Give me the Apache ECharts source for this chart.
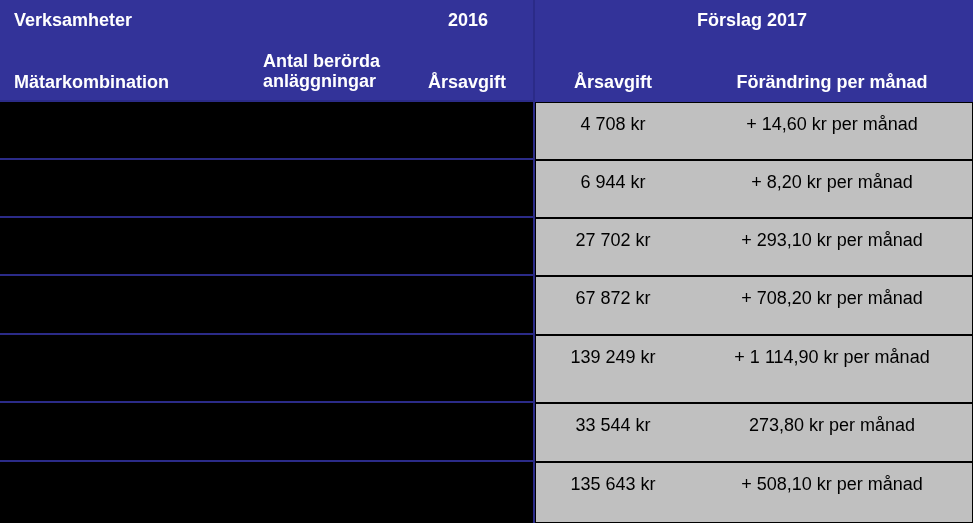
<!DOCTYPE html><html><head><meta charset="utf-8">
<script src="https://cdn.jsdelivr.net/npm/echarts@6/dist/echarts.min.js"></script>
<style>html,body{margin:0;padding:0;background:#000}#c{width:973px;height:523px}</style></head><body><div id="c"></div>
<script>
// data
var headerTop = ["Verksamheter", "2016", "Förslag 2017"];
var headerSub = ["Mätarkombination", "Antal berörda\nanläggningar", "Årsavgift", "Årsavgift", "Förändring per månad"];
var fee2017 = ["4 708 kr", "6 944 kr", "27 702 kr", "67 872 kr", "139 249 kr", "33 544 kr", "135 643 kr"];
var changePerMonth = ["+ 14,60 kr per månad", "+ 8,20 kr per månad", "+ 293,10 kr per månad", "+ 708,20 kr per månad", "+ 1 114,90 kr per månad", "273,80 kr per månad", "+ 508,10 kr per månad"];

// layout (separate from data)
var rowEdges = [0, 42, 102, 160, 218, 276, 335, 403, 462, 523];
var cols = {left:0, sub2:255, sub3:420, mid:534, c4:535, c5:692, right:973};

var cells = [];
// header row 1
cells.push([cols.left, cols.mid, rowEdges[0], rowEdges[1], '', '#333399', '', 'left', 0]);
cells.push([cols.c4, cols.right, rowEdges[0], rowEdges[1], '', '#333399', '', 'left', 0]);
cells.push([cols.left, cols.mid, rowEdges[1], rowEdges[2], '', '#333399', '', 'left', 0]);
cells.push([cols.c4, cols.right, rowEdges[1], rowEdges[2], '', '#333399', '', 'left', 0]);
for (var i = 0; i < fee2017.length; i++) {
  var y0 = rowEdges[i + 2], y1 = rowEdges[i + 3];
  cells.push([cols.left, cols.mid, y0, y1 - 2, '', '#000', '', 'left', 0]);
  cells.push([cols.c4 + 1, cols.right - 1, y0 + 1, y1 - 1, '', '#c0c0c0', '', 'left', 0]);
}
var texts = [
  [14, 21, headerTop[0], 'left', true],
  [468, 21, headerTop[1], 'center', true],
  [752, 21, headerTop[2], 'center', true],
  [14, 83, headerSub[0], 'left', true],
  [263, 72, headerSub[1], 'left', true],
  [467, 83, headerSub[2], 'center', true],
  [613, 83, headerSub[3], 'center', true],
  [832, 83, headerSub[4], 'center', true]
];
for (var j = 0; j < fee2017.length; j++) {
  var ty = rowEdges[j + 2] + 23;
  texts.push([613, ty, fee2017[j], 'center', false]);
  texts.push([832, ty, changePerMonth[j], 'center', false]);
}

var chart = echarts.init(document.getElementById('c'));
chart.setOption({
  backgroundColor: '#000',
  animation: false,
  grid: {left: 0, right: 0, top: 0, bottom: 0},
  xAxis: {type: 'value', min: 0, max: 973, show: false},
  yAxis: {type: 'value', min: 0, max: 523, inverse: true, show: false},
  series: [{
    type: 'custom',
    data: cells,
    renderItem: function (p, api) {
      var a = api.coord([api.value(0), api.value(2)]);
      var b = api.coord([api.value(1), api.value(3)]);
      return {type: 'rect', shape: {x: a[0], y: a[1], width: b[0] - a[0], height: b[1] - a[1]},
        style: {fill: cells[p.dataIndex][5]}};
    }
  }, {
    type: 'custom',
    data: rowEdges.slice(2, 9).map(function (e) { return [e]; }),
    renderItem: function (p, api) {
      var a = api.coord([cols.left, api.value(0)]);
      var b = api.coord([cols.mid, api.value(0)]);
      return {type: 'line', shape: {x1: a[0], y1: a[1] - 1, x2: b[0], y2: b[1] - 1}, style: {stroke: '#2b2b88', lineWidth: 2}};
    }
  }, {
    type: 'custom',
    data: [[0]],
    renderItem: function (p, api) {
      var a = api.coord([cols.mid, 0]);
      var b = api.coord([cols.mid, 523]);
      return {type: 'line', shape: {x1: a[0], y1: a[1], x2: b[0], y2: b[1]}, style: {stroke: '#2b2b88', lineWidth: 2}};
    }
  }, {
    type: 'custom',
    data: texts,
    renderItem: function (p, api) {
      var t = texts[p.dataIndex];
      var c = api.coord([t[0], t[1]]);
      return {type: 'text', x: c[0], y: c[1], style: {text: t[2], align: t[3], verticalAlign: 'middle',
        fill: t[4] ? '#fff' : '#000', font: (t[4] ? 'bold ' : '') + '18px "Liberation Sans", Arial', lineHeight: 20}};
    }
  }]
});
</script></body></html>
